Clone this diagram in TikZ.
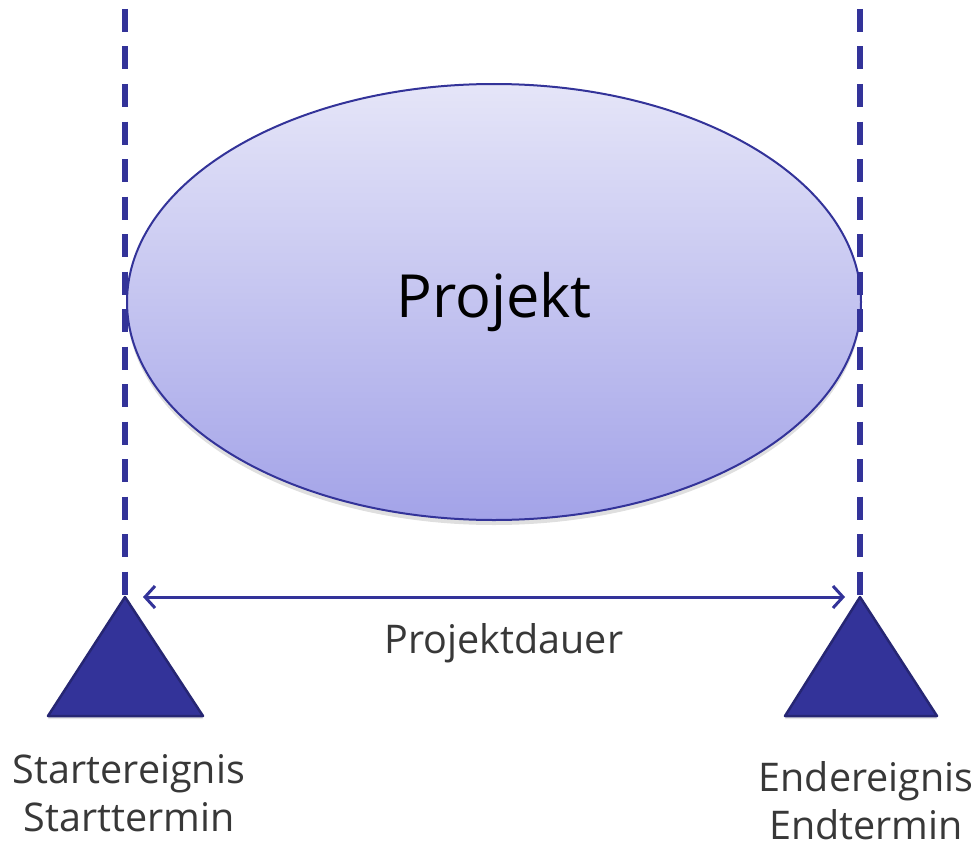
\documentclass[tikz,border=0pt]{standalone}
\usepackage{fontspec}
\setmainfont{Open Sans}
\usetikzlibrary{shapes.geometric,arrows.meta,shadows}
\definecolor{projblue}{RGB}{51,51,153}
\definecolor{projdark}{RGB}{38,38,115}
\definecolor{projtop}{RGB}{229,229,248}
\definecolor{projbottom}{RGB}{163,163,232}
\tikzset{
  milestone/.style={fill=projblue,draw=projdark,line width=2.5pt,line join=round,
    drop shadow={opacity=0.2,shadow xshift=0pt,shadow yshift=-3pt}},
  guide/.style={projblue,line width=6pt,dash pattern=on 23pt off 14.5pt},
  label/.style={text=black!78,align=center,inner sep=0pt,font=\fontsize{39.5}{48}\selectfont}
}
\begin{document}
\begin{tikzpicture}[x=1pt,y=-1pt]
  \useasboundingbox (0,0) rectangle (976,848);
  % project ellipse
  \node[ellipse,minimum width=734pt,minimum height=436pt,inner sep=0pt,
    draw=projblue,line width=2pt,top color=projtop,bottom color=projbottom,
    drop shadow={opacity=0.25,shadow xshift=0pt,shadow yshift=-5pt},
    font=\fontsize{59.5}{62}\selectfont] (proj) at (494,302) {Projekt};
  % milestones
  \draw[milestone] (125,597) -- (203,716) -- (48,716) -- cycle;
  \draw[milestone] (860,597) -- (937,716) -- (785,716) -- cycle;
  \coordinate (start) at (125,597);
  \coordinate (end) at (860,597);
  \coordinate (starttop) at (125,9);
  \coordinate (endtop) at (860,9);
  \begin{scope}[guide]
    \draw (starttop) -- (start);
    \draw (endtop) -- (end);
  \end{scope}
  \draw[projblue,line width=3pt,shorten <=18pt,shorten >=15pt,
    {Straight Barb[length=10pt,width=22pt]}-{Straight Barb[length=10pt,width=22pt]}]
    (start) -- (end);
  % labels
  \node[label] (dauer) at (504,643) {Projektdauer};
  \node[label] (startlbl) at (129,793) {Startereignis\\Starttermin};
  \node[label] (endlbl) at (866,801) {Endereignis\\Endtermin};
\end{tikzpicture}
\end{document}
